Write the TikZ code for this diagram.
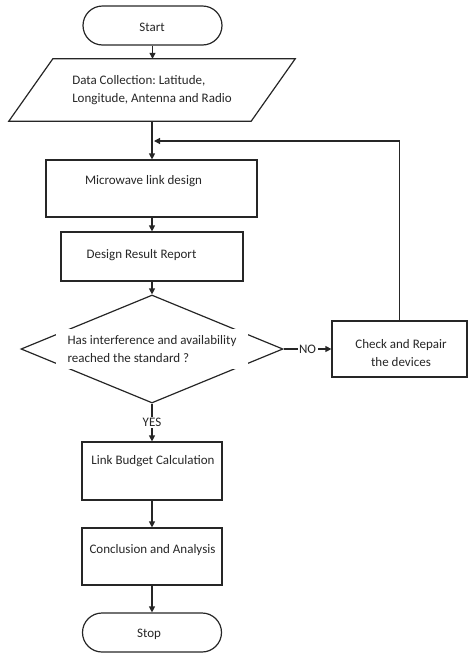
\documentclass[tikz,border=0pt]{standalone}
\usepackage{fontspec}
\setmainfont{Carlito}
\frenchspacing
\usetikzlibrary{shapes.geometric,arrows.meta}
\begin{document}
\begin{tikzpicture}[x=1pt,y=-1pt,
  every node/.style={font=\fontsize{13}{18}\selectfont, text=black!85},
  ln/.style={draw=black!85, line width=1.2pt},
  arr/.style={ln, -{Triangle[length=6pt,width=6pt]}},
  term/.style={ln, rectangle, rounded corners=19.5pt, minimum width=139pt, minimum height=39pt, inner sep=0pt},
  proc/.style={ln, rectangle, inner sep=0pt},
  txt/.style={inner sep=0pt},
  lbl/.style={fill=white, inner sep=1.5pt}]
\useasboundingbox (0,0) rectangle (468,654);

% Start
\node[term] (start) at (152.5,25.5) {};
\node[txt] (startt) at (152,27) {Start};

% Data collection (parallelogram)
\node[inner sep=0pt, minimum width=242pt, minimum height=62pt, align=left] (data) at (152,90) {Data Collection: Latitude,\\Longitude, Antenna and Radio};
\draw[ln] ([xshift=22pt]data.north west) -- ([xshift=22pt]data.north east)
  -- ([xshift=-22pt]data.south east) -- ([xshift=-22pt]data.south west) -- cycle;

% Microwave link design
\node[proc, minimum width=211pt, minimum height=57pt] (mw) at (151.5,188.5) {};
\node[txt] (mwt) at (143.5,181) {Microwave link design};

% Design Result Report
\node[proc, minimum width=182pt, minimum height=49pt] (drr) at (152,256.5) {};
\node[txt] (drrt) at (141.5,255) {Design Result Report};

% Decision
\node[ln, diamond, minimum width=262pt, minimum height=108pt, inner sep=0pt] (dec) at (152,349) {};
\node[fill=white, minimum width=192pt, minimum height=40pt, inner sep=0pt, align=left] (dect) at (152,349) {Has interference and availability\\reached the standard ?};

% Check and Repair
\node[proc, minimum width=135pt, minimum height=56pt] (chk) at (399.5,349) {};
\node[txt, align=center] (chkt) at (401,353) {Check and Repair\\the devices};

% Link Budget Calculation
\node[proc, minimum width=140pt, minimum height=58pt] (lb) at (152,471) {};
\node[txt] (lbt) at (153,461) {Link Budget Calculation};

% Conclusion and Analysis
\node[proc, minimum width=140pt, minimum height=57pt] (con) at (152,556.5) {};
\node[txt] (cont) at (152.5,550) {Conclusion and Analysis};

% Stop
\node[term] (stop) at (152,632.5) {};
\node[txt] (stopt) at (149,634) {Stop};

% Connectors
\coordinate (join) at (154,141);
\draw[arr] (start.south) -- (start.south |- data.north);
\draw[arr] (data.south) -- (data.south |- mw.north);
\draw[arr] (chk.north) |- (join);
\draw[arr] (mw.south -| drr.north) -- (drr.north);
\draw[arr] (drr.south) -- (dec.north);
\draw[arr] (dec.east) -- node[lbl] {NO} (chk.west);
\draw[arr] (dec.south) -- node[lbl] {YES} (lb.north);
\draw[arr] (lb.south) -- (con.north);
\draw[arr] (con.south) -- (stop.north);
\end{tikzpicture}
\end{document}
